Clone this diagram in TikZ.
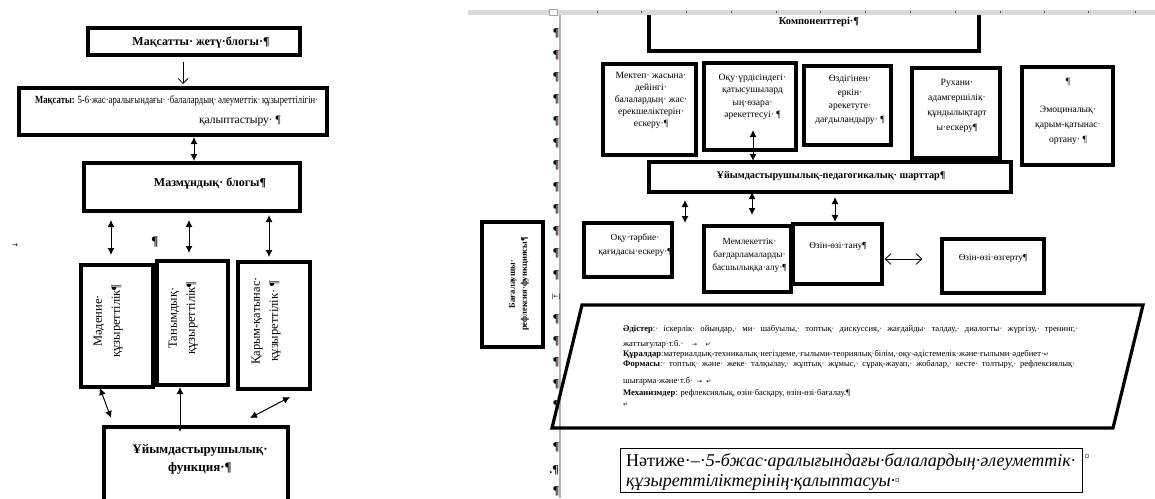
\documentclass[tikz,border=0pt]{standalone}
\usepackage{fontspec}
\usepackage{graphicx}
\setmainfont{Liberation Serif}
\newfontfamily\dejavu{DejaVu Sans}
\usetikzlibrary{arrows.meta,calc}
\newcommand\myret{{\dejavu\fontsize{6}{6}\selectfont ↵}}
\newcommand\mytab{{\dejavu\fontsize{6}{6}\selectfont →}}
\newcommand\fs[2]{\fontsize{#1}{#2}\selectfont}
\begin{document}
\begin{tikzpicture}[x=1pt,y=-1pt,
  box/.style={draw, line width=3.2pt, inner sep=0pt},
  lbl/.style={inner sep=0pt, align=center},
  dbl/.style={{Latex[length=7pt,width=7pt]}-{Latex[length=7pt,width=7pt]}, line width=1pt},
  open1/.style={-{Straight Barb[length=5pt,width=10pt]}, line width=0.8pt},
  open2/.style={{Straight Barb[length=6pt,width=11pt]}-{Straight Barb[length=6pt,width=11pt]}, line width=0.8pt},
  pil/.style={inner sep=0pt, font=\fs{12}{12}\bfseries},
  para/.style={inner sep=0pt, anchor=base west, font=\fs{8.6}{10}},
  res/.style={inner sep=0pt, anchor=base west, font=\fs{18}{21}},
]
\clip (0,0) rectangle (1155,498);
\fill[white] (0,0) rectangle (1155,498);

% ---------------- left part ----------------
\node[box, minimum width=212pt, minimum height=27pt] (goal) at (194,41.5) {};
\node[lbl, font=\fs{12}{14}\bfseries] (goalt) at (201,42) {Мақсатты· жетү·блогы·¶};

\node[box, minimum width=308pt, minimum height=47pt] (aim) at (173,111.5) {};
\node[lbl, anchor=west, font=\fs{11}{13}] (aimt1) at (35,101) {\resizebox{283pt}{\height}{\textbf{Мақсаты:} 5-6·жас·аралығындағы·\,·балалардың·\,әлеуметтік·\,құзыреттілігін·}};
\node[lbl, font=\fs{11.5}{13}] (aimt2) at (240,121) {қалыптастыру· ¶};

\node[box, minimum width=216pt, minimum height=48pt] (content) at (192,187) {};
\node[lbl, font=\fs{12}{14}\bfseries] (contentt) at (210,183) {Мазмұндық· блогы¶};

\node[box, minimum width=72pt, minimum height=122pt] (v1) at (117,326) {};
\node[box, minimum width=71pt, minimum height=124pt] (v2) at (192.5,323) {};
\node[box, minimum width=72pt, minimum height=127pt] (v3) at (274,325.5) {};
\node[lbl, rotate=90, font=\fs{12.5}{18}] (v1t) at (108,321) {Мәдение·\\құзыреттілік¶};
\node[lbl, rotate=90, font=\fs{12.5}{18}] (v2t) at (183,318) {Танымдық·\\құзыреттілік¶};
\node[lbl, rotate=90, font=\fs{12.5}{18}] (v3t) at (266,321) {Қарым-қатынас·\\құзыреттілік· ¶};

\node[box, minimum width=184pt, minimum height=90pt] (func) at (196,472) {};
\node[lbl, font=\fs{13}{18}\bfseries] (funct) at (200,459) {Ұйымдастырушылық·\\функция·¶};

\node[pil, font=\fs{13}{13}\bfseries] (lp) at (155,242) {¶};
\node[inner sep=0pt, font=\dejavu\fs{7}{7}] (larr) at (15,246) {→};

\coordinate (a1s) at (183,62); \coordinate (a1e) at (183,84);
\draw[open1] (a1s) -- (a1e);
\coordinate (a2s) at (194,137); \coordinate (a2e) at (194,161);
\draw[dbl] (a2s) -- (a2e);
\coordinate (a3s) at (111,220); \coordinate (a3e) at (111,255);
\draw[dbl] (a3s) -- (a3e);
\coordinate (a4s) at (189,220); \coordinate (a4e) at (189,253);
\draw[dbl] (a4s) -- (a4e);
\coordinate (a5s) at (269,215); \coordinate (a5e) at (269,257);
\draw[dbl] (a5s) -- (a5e);
\coordinate (a6s) at (100,388); \coordinate (a6e) at (111,418);
\draw[dbl] (a6s) -- (a6e);
\coordinate (a7s) at (180,387); \coordinate (a7e) at (180,432);
\draw[dbl] (a7s) -- (a7e);
\coordinate (a8s) at (290,397); \coordinate (a8e) at (250,418);
\draw[dbl] (a8s) -- (a8e);

% ---------------- right part: page marks ----------------
\draw[red!45, line width=0.5pt] (559,15) -- (559,498);
\draw[gray!60, line width=0.5pt] (560.3,15) -- (560.3,498);
\foreach \yy [count=\i] in {33,55,77,99,121,143,165,187,209,231,253,275,319,341,362,384,405,447,491}
  \node[pil] (pc\i) at (556,\yy) {¶};
\node[pil] (pcdot) at (554,470) {.¶};
\node[inner sep=0pt, font=\dejavu\fs{6}{6}] (brk) at (556,297) {|←|};

% components box (top hidden under the ruler)
\coordinate (compTL) at (649,15);
\coordinate (compBR) at (979,51);
\draw[line width=3.2pt] (compTL) |- (compBR) -- (979,15);
\node[lbl, font=\fs{10.5}{12}\bfseries] (comp) at (819,22) {Компоненттері·¶};

% ruler
\fill[gray!30] (468,10) rectangle (1155,15);
\foreach \t in {597,641,686,731,776,820,865,910,955,1000,1044,1088,1135}
  \draw[gray!60!black, line width=0.6pt] (\t,10.5) -- (\t,13);
\draw[gray!70, fill=white, line width=0.5pt] (549,9.5) rectangle (557,15.5);

% row of five boxes
\node[box, minimum width=93pt, minimum height=91pt] (r1) at (649.5,109.5) {};
\node[box, minimum width=92pt, minimum height=87pt] (r2) at (750,106.5) {};
\node[box, minimum width=87pt, minimum height=79pt] (r3) at (847.5,105.5) {};
\node[box, minimum width=88pt, minimum height=90pt] (r4) at (956,113) {};
\node[box, minimum width=91pt, minimum height=98pt] (r5) at (1067.5,116) {};
\node[lbl, font=\fs{9.6}{12}] (r1t) at (651,100) {Мектеп· жасына·\\дейінгі·\\балалардың· жас·\\ерекшеліктерін·\\ескеру·¶};
\node[lbl, font=\fs{9.6}{12.5}] (r2t) at (752.5,97) {Оқу·үрдісіндегі·\\қатысушылард\\ың·өзара·\\әрекеттесуі· ¶};
\node[lbl, font=\fs{9.6}{13.5}] (r3t) at (850,100) {Өздігінен·\\еркін·\\әрекетуте·\\дағдыландыру· ¶};
\node[lbl, font=\fs{9.6}{15}] (r4t) at (957,105.5) {Рухани·\\адамгершілік·\\құндылықтарт\\ы·ескеру¶};
\node[lbl, font=\fs{9.6}{15}] (r5t) at (1068,111) {¶\\[13pt]Эмоциналық·\\қарым-қатынас·\\ортану· ¶};

\coordinate (b1s) at (753,130); \coordinate (b1e) at (753,161);
\draw[dbl] (b1s) -- (b1e);

\node[box, minimum width=362pt, minimum height=30pt] (ped) at (830,177) {};
\node[lbl, font=\fs{10.2}{12}\bfseries] (pedt) at (831,176) {Ұйымдастырушылық-педагогикалық· шарттар¶};

\coordinate (c1s) at (685,200); \coordinate (c1e) at (685,223);
\draw[dbl] (c1s) -- (c1e);
\coordinate (c2s) at (752,192); \coordinate (c2e) at (752,215);
\draw[dbl] (c2s) -- (c2e);
\coordinate (c3s) at (835,197); \coordinate (c3e) at (835,222);
\draw[dbl] (c3s) -- (c3e);

\node[box, minimum width=88pt, minimum height=54pt] (o1) at (628,250) {};
\node[box, minimum width=87pt, minimum height=66pt] (o2) at (747.5,259) {};
\node[box, minimum width=89pt, minimum height=60pt] (o3) at (837.5,254) {};
\node[box, minimum width=102pt, minimum height=54pt] (o4) at (993,266) {};
\node[lbl, font=\fs{9.3}{13.5}] (o1t) at (635,245) {Оқу·тәрбие·\\қағидасы·ескеру·¶};
\node[lbl, font=\fs{9.3}{13}] (o2t) at (749.5,255) {Мемлекеттік·\\бағдарламаларды·\\басшылыққа·алу·¶};
\node[lbl, font=\fs{9.3}{12}] (o3t) at (838,246) {Өзін-өзі·тану¶};
\node[lbl, font=\fs{9.3}{12}] (o4t) at (993,258) {Өзін-өзі·өзгерту¶};
\coordinate (d1s) at ($(o3.east)+(1,5)$);
\coordinate (d1e) at ($(o4.west)+(-18,-7)$);
\draw[open2] (d1s) -- (d1e);

\node[box, minimum width=61pt, minimum height=125pt] (eval) at (512.5,284.5) {};
\node[lbl, rotate=90, font=\fs{8.6}{12}\bfseries] (evalt) at (519,284) {Бағалаушы·\\рефлексия·функциясы¶};

% parallelogram
\coordinate (p1) at (582,305); \coordinate (p2) at (1143,305);
\coordinate (p3) at (1113,428); \coordinate (p4) at (552,428);
\draw[line width=3.2pt, line join=miter] (p1) -- (p2) -- (p3) -- (p4) -- cycle;
\node[para] (L1) at (623,331) {\makebox[455pt][s]{\textbf{Әдістер}:· іскерлік· ойындар,· ми· шабуылы,· топтық· дискуссия,· жағдайды· талдау,· диалогты· жүргізу,· тренинг,·}};
\node[para] (L2) at (623,346) {жаттығулар·т.б.·\quad\mytab\quad\myret};
\node[para] (L3) at (623,356) {\makebox[452pt][s]{\textbf{Құралдар}:материалдық-техникалық·негіздеме,·ғылыми-теориялық·білім,·оқу-әдістемелік·және·ғылыми·әдебиет·\myret}};
\node[para] (L4) at (623,366) {\makebox[452pt][s]{\textbf{Формасы}:· топтық· және· жеке· талқылау,· жұптық· жұмыс,· сұрақ-жауап,· жобалар,· кесте· толтыру,· рефлексиялық·}};
\node[para] (L5) at (623,383) {шығарма·және·т.б·\enspace\mytab\enspace\myret};
\node[para] (L6) at (623,395) {\textbf{Механизмдер}: рефлексиялық, өзін·басқару, өзін-өзі·бағалау.¶};
\node[para] (L7) at (623,406) {\myret};

% result box
\node[draw, line width=0.9pt, minimum width=462pt, minimum height=44pt, inner sep=0pt] (resbox) at (851,470) {};
\node[res] (res1) at (626,466) {Нәтиже·–·\textit{5-бжас·аралығындағы·балалардың·әлеуметтік·}};
\node[res] (res2) at (626,486.5) {\textit{құзыреттіліктерінің·қалыптасуы·}\raisebox{3pt}{\fs{9}{9}¤}};
\node[inner sep=0pt, font=\fs{9}{9}] (cur1) at (1087,457) {¤};
\end{tikzpicture}
\end{document}
